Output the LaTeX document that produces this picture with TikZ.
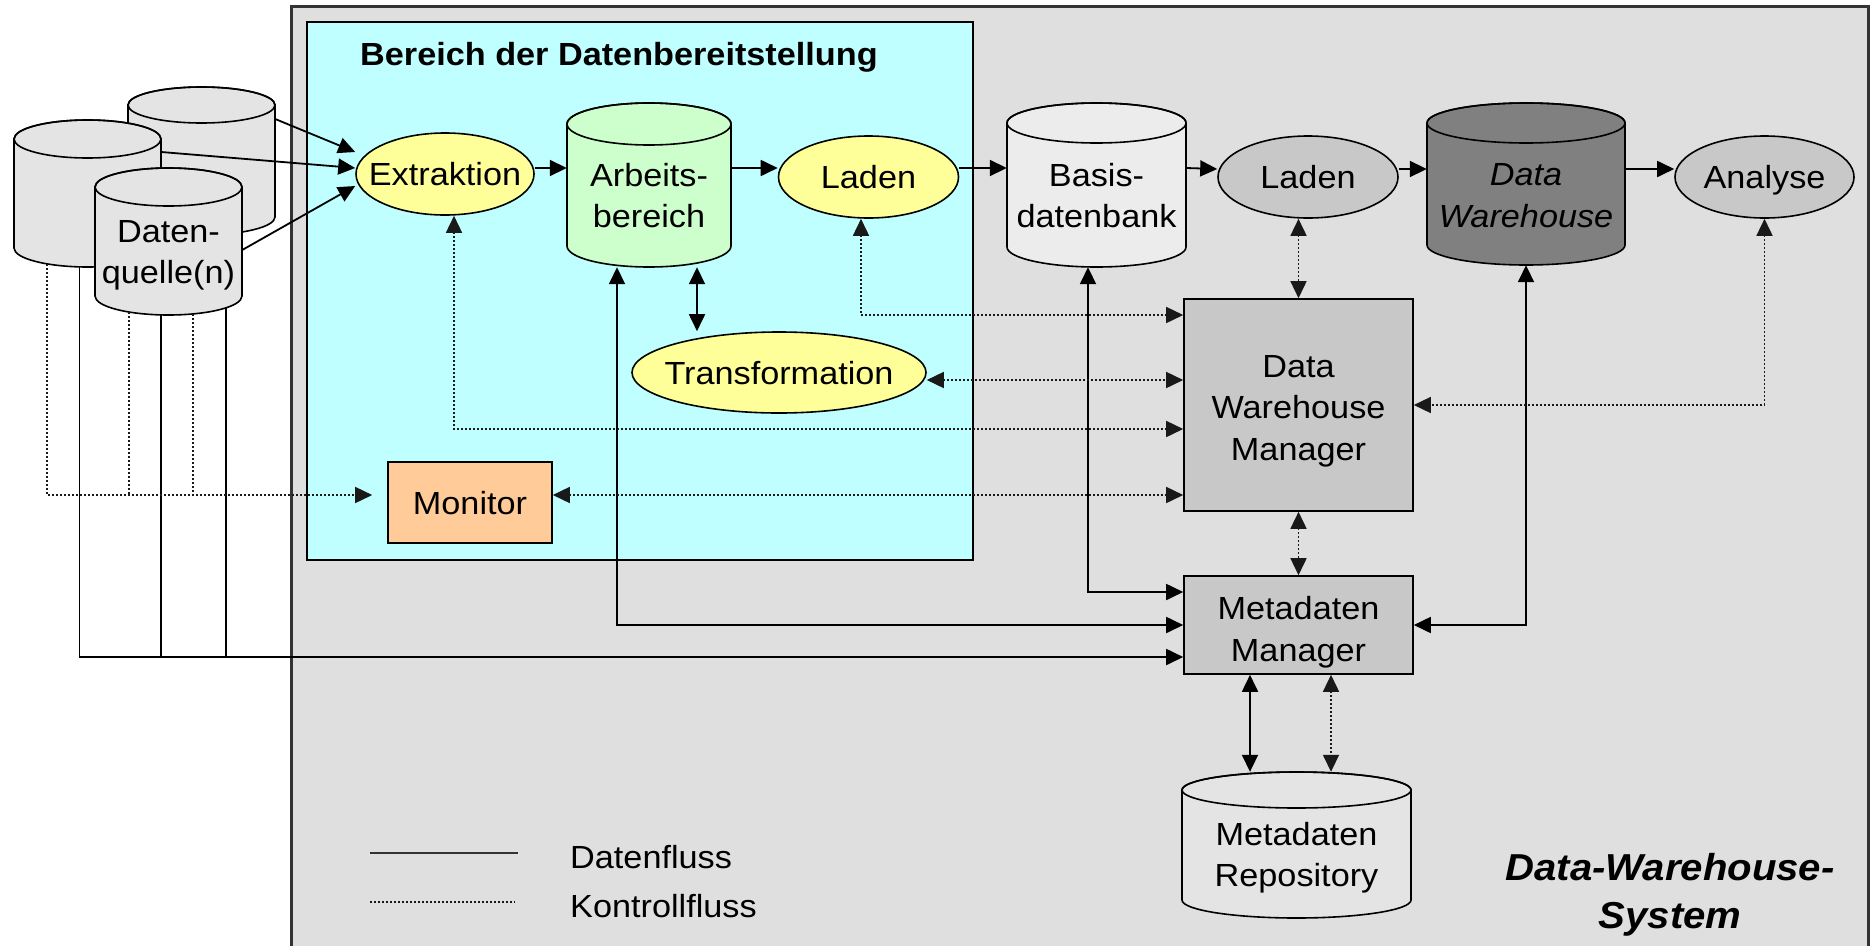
\documentclass[tikz,border=0pt]{standalone}
\usepackage{fontspec}
\setmainfont{Liberation Sans}[FakeStretch=1.07]
\usetikzlibrary{arrows.meta,shapes.geometric}
\definecolor{bggray}{HTML}{DFDFDF}
\definecolor{cyanbg}{HTML}{BFFFFF}
\definecolor{yel}{HTML}{FFFF99}
\definecolor{grn}{HTML}{CCFFCC}
\definecolor{peach}{HTML}{FFCC99}
\definecolor{midgray}{HTML}{C8C8C8}
\definecolor{dkgray}{HTML}{808080}
\definecolor{ltgray}{HTML}{E4E4E4}
\definecolor{basisgray}{HTML}{ECECEC}
\newcommand\ztext[1]{\makebox[0pt]{#1}}
\tikzset{
  txt/.style={font=\fontsize{32}{41.5}\selectfont, inner sep=0pt},
  ell/.style={txt, ellipse, draw, line width=1.6pt, text height=23pt, text depth=0pt},
  boxnode/.style={txt, rectangle, draw, line width=1.6pt},
  cylnode/.style={txt, rectangle, draw=none},
  cylline/.style={line width=1.6pt},
  dline/.style={line width=1.8pt, draw=black},
  flow/.style={dline, ->},
  flowboth/.style={dline, <->},
  ctrlline/.style={line width=1.6pt, draw=black!90, dash pattern=on 2pt off 2pt},
  ctrl/.style={ctrlline, ->},
  ctrlboth/.style={ctrlline, <->},
  >={Triangle[length=17pt,width=16pt]}
}
\newcommand\cylshape[6]{%
  \pgfmathsetmacro\cxl{#1-#3/2}\pgfmathsetmacro\cxr{#1+#3/2}%
  \pgfmathsetmacro\cyt{#2-#4/2+#5}\pgfmathsetmacro\cyb{#2+#4/2-#5}%
  \pgfmathsetmacro\crx{#3/2}%
  \draw[cylline, fill=#6] (\cxl,\cyt) -- (\cxl,\cyb)
     arc[start angle=180,end angle=360,x radius=\crx pt,y radius=#5pt]
     -- (\cxr,\cyt)
     arc[start angle=0,end angle=180,x radius=\crx pt,y radius=#5pt] -- cycle;
  \draw[cylline] (#1,\cyt) ellipse [x radius=\crx pt, y radius=#5pt];
}
\begin{document}
\begin{tikzpicture}[x=1pt,y=-1pt]
\useasboundingbox (0,0) rectangle (1870,945);
\clip (0,0) rectangle (1870,945);
\fill[white] (0,0) rectangle (1870,945);
% system area
\draw[line width=3pt, draw=black!80, fill=bggray] (291,6) rectangle (1868,1000);
% staging area
\draw[line width=1.8pt, fill=cyanbg] (307,22) rectangle (973,560);
\node[font=\fontsize{32}{40}\selectfont\bfseries, inner sep=0pt, anchor=base west] (title) at (360,65) {Bereich der Datenbereitstellung};

% data sources
\cylshape{201.5}{161}{147}{148}{18}{ltgray}
\node[cylnode, minimum width=147pt, minimum height=148pt] (q1) at (201.5,161) {};
\cylshape{87.5}{193.5}{147}{147}{19}{ltgray}
\node[cylnode, minimum width=147pt, minimum height=147pt] (q2) at (87.5,193.5) {};
\cylshape{168.5}{241.5}{147}{147}{19}{ltgray}
\node[cylnode, minimum width=147pt, minimum height=147pt,
  label={[txt,align=center,yshift=-14pt]center:{Daten-\\quelle(n)}}] (q3) at (168.5,241.5) {};

% staging nodes
\node[ell, fill=yel, minimum width=178pt, minimum height=82pt] (ex) at (445,174) {\ztext{Extraktion}};
\cylshape{649}{185}{164}{164}{21}{grn}
\node[cylnode, minimum width=164pt, minimum height=164pt,
  label={[txt,align=center,yshift=-10.5pt]center:{Arbeits-\\bereich}}] (ab) at (649,185) {};
\node[ell, fill=yel, minimum width=180pt, minimum height=82pt] (ld1) at (868.5,177) {\ztext{Laden}};
\node[ell, fill=yel, minimum width=294pt, minimum height=81pt] (tr) at (779,372.5) {\ztext{Transformation}};
\node[boxnode, fill=peach, minimum width=164pt, minimum height=81pt, text height=23pt, text depth=0pt] (mon) at (470,502.5) {Monitor};

% right part
\cylshape{1096.5}{185}{179}{164}{20}{basisgray}
\node[cylnode, minimum width=179pt, minimum height=164pt,
  label={[txt,align=center,yshift=-10.5pt]center:{Basis-\\datenbank}}] (bd) at (1096.5,185) {};
\node[ell, fill=midgray, minimum width=180pt, minimum height=82pt] (ld2) at (1308,177) {\ztext{Laden}};
\cylshape{1526}{184}{198}{162}{20}{dkgray}
\node[cylnode, minimum width=198pt, minimum height=162pt,
  label={[txt,font=\fontsize{32}{41.5}\selectfont\itshape,align=center,yshift=-11.5pt]center:{Data\\Warehouse}}] (dw) at (1526,184) {};
\node[ell, fill=midgray, minimum width=179pt, minimum height=82pt] (an) at (1764.5,177) {\ztext{Analyse}};

\node[boxnode, fill=midgray, minimum width=229pt, minimum height=212pt,
  label={[txt,align=center,yshift=-6pt]center:{Data\\Warehouse\\Manager}}] (dwm) at (1298.5,405) {};
\node[boxnode, fill=midgray, minimum width=229pt, minimum height=98pt,
  label={[txt,align=center,yshift=-7pt]center:{Metadaten\\Manager}}] (mm) at (1298.5,625) {};
\cylshape{1296.5}{845}{229}{146}{18}{ltgray}
\node[cylnode, minimum width=229pt, minimum height=146pt,
  label={[txt,align=center,yshift=-12.5pt]center:{Metadaten\\Repository}}] (rep) at (1296.5,845) {};

% data flow: sources -> Extraktion
\draw[flow] ([yshift=42pt]q1.east) -- ([yshift=22pt]ex.west);
\draw[flow] ([yshift=41.5pt]q2.east) -- ([yshift=6pt]ex.west);
\draw[flow] ([yshift=-8.5pt]q3.east) -- ([yshift=-12pt]ex.west);
% main chain
\draw[flow] ([yshift=6pt]ex.east) -- ([yshift=17pt]ab.west);
\draw[flow] ([yshift=17pt]ab.east) -- ([yshift=9pt]ld1.west);
\draw[flow] ([yshift=9pt]ld1.east) -- ([yshift=17pt]bd.west);
\draw[flow] ([yshift=17pt]bd.east) -- ([yshift=8pt]ld2.west);
\draw[flow] ([yshift=8pt]ld2.east) -- ([yshift=15pt]dw.west);
\draw[flow] ([yshift=15pt]dw.east) -- ([yshift=8pt]an.west);
\draw[flowboth] ([xshift=48pt]ab.south) -- ([xshift=-82pt]tr.north);
% data flow to metadata manager
\draw[flowboth] ([xshift=-32pt]ab.south) |- (mm.west);
\draw[flowboth] ([xshift=-8.5pt]bd.south) |- ([yshift=33pt]mm.west);
\draw[flowboth] (dw.south) |- (mm.east);
\coordinate (mmq) at ([yshift=-32pt]mm.west);
\coordinate (s1) at ([xshift=-8pt,yshift=1pt]q2.south);
\coordinate (s2) at ([xshift=-7.5pt,yshift=1pt]q3.south);
\coordinate (s3) at ([xshift=57.5pt,yshift=7pt]q3.south);
\draw[flow] (s1) |- (mmq);
\draw[dline] (s2) -- (s2 |- mmq);
\draw[dline] (s3) -- (s3 |- mmq);
\coordinate (mr1) at ([xshift=-48.5pt]mm.south);
\coordinate (mr2) at ([xshift=32.5pt]mm.south);
\draw[flowboth] (mr1) -- (mr1 |- rep.north);
\draw[ctrlboth] (mr2) -- (mr2 |- rep.north);

% control flow
\coordinate (monin) at ([yshift=7.5pt]mon.west);
\coordinate (d1) at ([xshift=-40.5pt,yshift=3pt]q2.south);
\coordinate (d2) at ([xshift=-39.5pt,yshift=3pt]q3.south);
\coordinate (d3) at ([xshift=24.5pt,yshift=1pt]q3.south);
\draw[ctrl, shorten >=15pt] (d1) |- (monin);
\draw[ctrlline] (d2) -- (d2 |- monin);
\draw[ctrlline] (d3) -- (d3 |- monin);
\coordinate (mo) at ([yshift=7.5pt]mon.east);
\draw[ctrlboth] (mo) -- (mo -| dwm.west);
\draw[ctrlboth] ([xshift=9pt]ex.south) |- ([yshift=-24pt]dwm.west);
\coordinate (to) at ([yshift=-7.5pt]tr.east);
\draw[ctrlboth] (to) -- (to -| dwm.west);
\draw[ctrlboth] ([xshift=-7.5pt]ld1.south) |- ([yshift=90pt]dwm.west);
\draw[ctrlboth] (ld2.south -| dwm.north) -- (dwm.north);
\draw[ctrlboth] (an.south) |- (dwm.east);
\draw[ctrlboth] (dwm.south) -- (mm.north);

% legend
\coordinate (la1) at (370,853);
\coordinate (la2) at (518,853);
\coordinate (lb1) at (370,902);
\coordinate (lb2) at (515,902);
\draw[line width=2.5pt, draw=black!80] (la1) -- (la2);
\draw[ctrlline] (lb1) -- (lb2);
\node[txt, anchor=base west] (leg1) at (570,868) {Datenfluss};
\node[txt, anchor=base west] (leg2) at (570,917) {Kontrollfluss};
\node[font=\fontsize{37.5}{48}\selectfont\bfseries\itshape, align=center, inner sep=0pt, anchor=north] (sys) at (1670,853) {Data-Warehouse-\\System};
\end{tikzpicture}
\end{document}
